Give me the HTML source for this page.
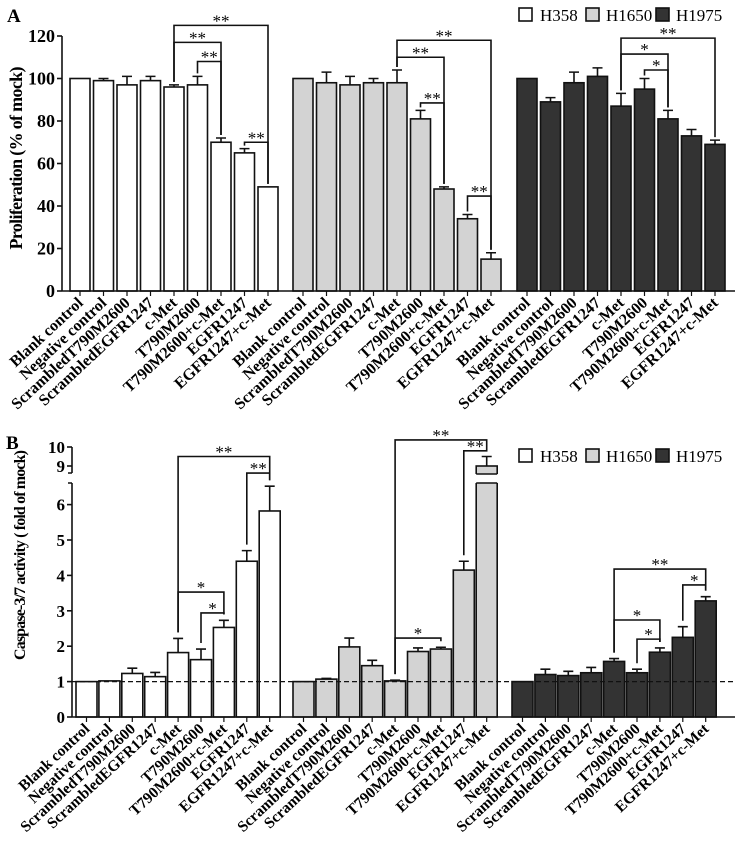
<!DOCTYPE html>
<html><head><meta charset="utf-8"><style>
html,body{margin:0;padding:0;background:#fff}
svg{display:block}
text{font-family:"Liberation Serif",serif}
</style></head><body>
<svg id="chart" width="739" height="847" viewBox="0 0 739 847" xmlns="http://www.w3.org/2000/svg"></svg>
<script>
const categories = ["Blank control","Negative control","ScrambledT790M2600","ScrambledEGFR1247","c-Met","T790M2600","T790M2600+c-Met","EGFR1247","EGFR1247+c-Met"];
const cellLines = ["H358","H1650","H1975"];
const fills = ["#ffffff","#d3d3d3","#333333"];
const profH358 = [100,99,97,99,96,97,70,65,49];
const profH358Err = [0,1,4,2,1,4,2,2,0];
const profH1650 = [100,98,97,98,98,81,48,34,15];
const profH1650Err = [0,5,4,2,6,4,1,2,3];
const profH1975 = [100,89,98,101,87,95,81,73,69];
const profH1975Err = [0,2,5,4,6,5,4,3,2];
const profTicks = [0,20,40,60,80,100,120];
const caspH358 = [1,1.02,1.23,1.14,1.82,1.62,2.53,4.4,5.82];
const caspH358Err = [0,0,0.15,0.12,0.4,0.3,0.2,0.3,0.7];
const caspH1650 = [1,1.07,1.98,1.45,1.02,1.85,1.92,4.15,9.0];
const caspH1650Err = [0,0.02,0.25,0.15,0.02,0.1,0.05,0.25,0.5];
const caspH1975 = [1,1.2,1.17,1.25,1.57,1.25,1.83,2.25,3.28];
const caspH1975Err = [0,0.15,0.12,0.15,0.08,0.1,0.12,0.3,0.12];
const caspTicks = [0,1,2,3,4,5,6,9,10];
// brackets: [fromIdx,toIdx,level,label]
const profBrackets = [
 [[4,8,125,"**"],[4,6,117,"**"],[5,6,108,"**"],[7,8,70,"**"]],
 [[4,8,118,"**"],[4,6,110,"**"],[5,6,88.5,"**"],[7,8,44.7,"**"]],
 [[4,8,119,"**"],[4,6,111.5,"*"],[5,6,104,"*"]]
];
const caspBrackets = [
 [[4,8,9.5,"**"],[7,8,8.63,"**"],[4,6,3.53,"*"],[5,6,2.94,"*"]],
 [[4,8,10.37,"**"],[7,8,9.8,"**"],[4,6,2.23,"*"]],
 [[4,8,4.18,"**"],[7,8,3.73,"*"],[4,6,2.74,"*"],[5,6,2.2,"*"]]
];

const NS="http://www.w3.org/2000/svg";
const svg=document.getElementById('chart');
function mk(tag,attrs,parent){const e=document.createElementNS(NS,tag);for(const k in attrs)e.setAttribute(k,attrs[k]);(parent||svg).appendChild(e);return e;}

function drawPanel(cfg){
  const g=mk('g',{});
  
  
  const y=cfg.y;
  const xs=(gi,i)=>cfg.groupStart[gi]+i*cfg.pitch;
  cfg.series.forEach((vals,gi)=>{
    vals.forEach((v,i)=>{
      const x=xs(gi,i), top=y(v), base=y(0);
      const r=mk('rect',{x:x,y:top,width:cfg.bw,height:base-top,fill:fills[gi],stroke:'#111','stroke-width':1.6},g);
      
      
      if(cfg.breakBand && top<cfg.breakBand[0]){
        const b=mk('rect',{x:x-2,y:cfg.breakBand[0],width:cfg.bw+4,height:cfg.breakBand[1]-cfg.breakBand[0],fill:'#fff'},g);
        
        
        mk('line',{x1:x,x2:x+cfg.bw,y1:cfg.breakBand[0],y2:cfg.breakBand[0],stroke:'#111','stroke-width':1.6},g);
        mk('line',{x1:x,x2:x+cfg.bw,y1:cfg.breakBand[1],y2:cfg.breakBand[1],stroke:'#111','stroke-width':1.6},g);
      }
      const e=cfg.errs[gi][i];
      if(e>0){
        const cx=x+cfg.bw/2, ey=y(v+e);
        const el=mk('path',{d:`M${cx},${top}V${ey}M${cx-5},${ey}H${cx+5}`,stroke:'#111','stroke-width':1.6,fill:'none'},g);
        
        
      }
      const cx=x+cfg.bw/2;
      mk('line',{x1:cx,x2:cx,y1:y(0),y2:y(0)+5,stroke:'#111','stroke-width':1.2},g);
      const t=mk('text',{x:cx+4,y:y(0)+13,'text-anchor':'end','font-size':cfg.lfs,'font-weight':'bold',transform:`rotate(-43 ${cx+4} ${y(0)+13})`},g);
      t.textContent=categories[i];
      
      
    });
  });
  cfg.brackets.forEach((list,gi)=>{
    list.forEach(b=>{
      const [a,c,lv,lab]=b;
      const xa=xs(gi,a)+cfg.bw/2, xc=xs(gi,c)+cfg.bw/2, yl=y(lv);
      const ya=y(cfg.series[gi][a]+cfg.errs[gi][a])-cfg.gap, yc=y(cfg.series[gi][c]+cfg.errs[gi][c])-cfg.gap;
      const p=mk('path',{d:`M${xa},${ya}V${yl}H${xc}V${yc}`,stroke:'#111','stroke-width':1.6,fill:'none'},g);
      
      
      const t=mk('text',{x:(xa+xc)/2,y:yl+1,'text-anchor':'middle','font-size':17},g);
      t.textContent=lab;
      
      
    });
  });
  mk('path',{d:cfg.yAxisPath,stroke:'#111','stroke-width':1.6,fill:'none'},g);
  mk('line',{x1:cfg.axX,x2:735,y1:y(0),y2:y(0),stroke:'#111','stroke-width':1.6},g);
  cfg.ticks.forEach(tv=>{
    const ty=y(tv);
    mk('line',{x1:cfg.axX-5,x2:cfg.axX,y1:ty,y2:ty,stroke:'#111','stroke-width':1.6},g);
    const t=mk('text',{x:cfg.axX-7,y:ty+6,'text-anchor':'end','font-size':cfg.tfs,'font-weight':'bold'},g);
    t.textContent=tv;
    
    
  });
  return g;
}

const yA=v=>291-v*2.125;
drawPanel({name:'panel-a-proliferation',y:yA,groupStart:[70,293,517],pitch:23.5,bw:20,
  series:[profH358,profH1650,profH1975],errs:[profH358Err,profH1650Err,profH1975Err],
  brackets:profBrackets,ticks:profTicks,axX:62,yAxisPath:`M62,${yA(120)}V291`,gap:3,lfs:16,tfs:18});
const yB=v=>v<=7.5?717-v*35.4:466-(v-9)*19;
drawPanel({name:'panel-b-caspase',y:yB,groupStart:[76,293,512],pitch:22.9,bw:21,
  series:[caspH358,caspH1650,caspH1975],errs:[caspH358Err,caspH1650Err,caspH1975Err],
  brackets:caspBrackets,ticks:caspTicks,axX:72,yAxisPath:`M72,717V483M68,483H72M72,473V447M68,473H72`,gap:6,breakBand:[474,483],lfs:15.5,tfs:17});
const dl=mk('line',{x1:72,x2:735,y1:yB(1),y2:yB(1),stroke:'#111','stroke-width':1.2,'stroke-dasharray':'5,3'});



function txt(s,attrs,name){const t=mk('text',attrs);t.textContent=s;return t;}
txt('A',{x:7,y:22,'font-size':19,'font-weight':'bold'},'panel-a-label');
txt('B',{x:6,y:449,'font-size':19,'font-weight':'bold'},'panel-b-label');
txt('Proliferation (% of mock)',{x:0,y:0,'font-size':18,'font-weight':'bold','text-anchor':'middle',textLength:183,transform:'translate(22,158) rotate(-90)'},'y-axis-title-a');
txt('Caspase-3/7 activity ( fold of mock)',{x:0,y:0,'font-size':16,'font-weight':'bold','text-anchor':'middle',textLength:210,transform:'translate(25,555) rotate(-90)'},'y-axis-title-b');

function legend(y0,name){
  const g=mk('g',{});
  const bx=[519,586,656], tx=[540,606,676];
  cellLines.forEach((c,i)=>{
    const r=mk('rect',{x:bx[i],y:y0,width:13,height:13,fill:fills[i],stroke:'#111','stroke-width':1.6},g);
    
    const t=mk('text',{x:tx[i],y:y0+13,'font-size':17},g);t.textContent=c;
    
  });
}
legend(8,'legend-a');
legend(449,'legend-b');
</script>
</body></html>
